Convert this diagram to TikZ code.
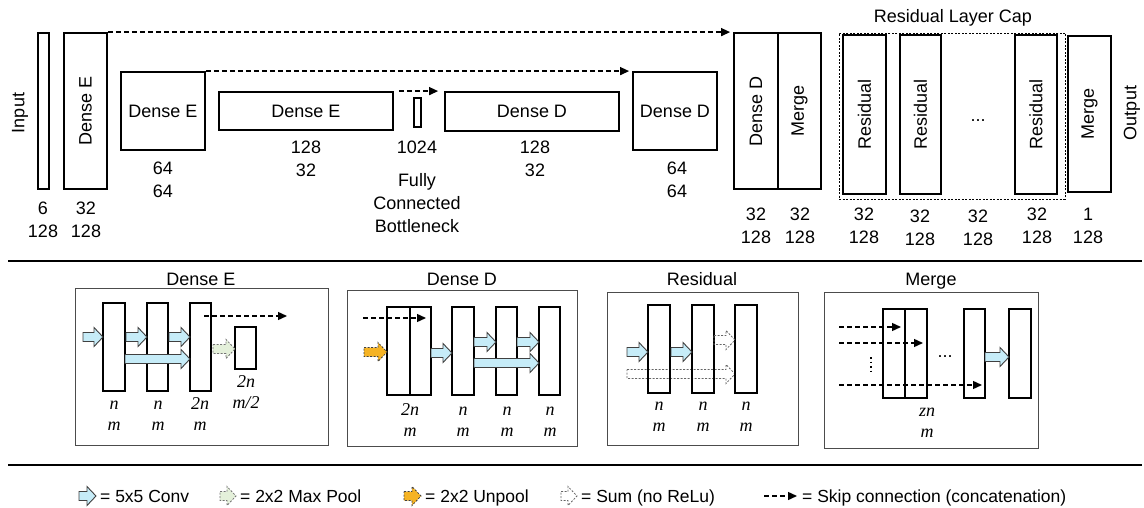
\documentclass[tikz,border=0pt]{standalone}
\usepackage{fontspec}
\setmainfont{Liberation Sans}
\newfontfamily\tms{Liberation Serif}
\usetikzlibrary{arrows.meta}
\definecolor{convblue}{HTML}{C6ECF8}
\definecolor{poolgreen}{HTML}{E4F0DA}
\definecolor{unpoolorange}{HTML}{F5B324}
\newcommand\bx[7][]{\node[#1,minimum width={(#5-#3)*1pt},minimum height={(#6-#4)*1pt}] (#2) at ({(#3+#5)/2},{(#4+#6)/2}) {#7};}
\newcommand\barr[4][conv]{\draw[#1] (#2,#4-4.5) -- (#3-9,#4-4.5) -- (#3-9,#4-9.5) -- (#3,#4) -- (#3-9,#4+9.5) -- (#3-9,#4+4.5) -- (#2,#4+4.5) -- cycle;}
\newcommand\ftop{\fontsize{18}{23}\selectfont}
\newcommand\fleg{\fontsize{17.5}{21}\selectfont}
\newcommand\fit{\fontsize{18}{21}\selectfont\tms\itshape}
\begin{document}
\begin{tikzpicture}[x=1pt,y=-1pt,
  box/.style={draw,line width=1.8pt,inner sep=0pt,font=\ftop},
  bar/.style={draw,line width=1.5pt,inner sep=0pt},
  panel/.style={draw=black!70,line width=0.9pt,inner sep=0pt},
  skip/.style={dash pattern=on 5pt off 3pt,line width=1.4pt,-{Triangle[length=9pt,width=8pt]}},
  conv/.style={draw=black!75,fill=convblue,line width=0.9pt,line join=miter},
  pool/.style={draw=black!55,fill=poolgreen,line width=0.8pt,dash pattern=on 2pt off 1.5pt},
  unpool/.style={draw=black!75,fill=unpoolorange,line width=0.8pt,dash pattern=on 2pt off 1.5pt},
  sumar/.style={draw=black!60,line width=0.8pt,dash pattern=on 2pt off 1.5pt},
  lbl/.style={align=center,font=\ftop,inner sep=0pt,anchor=north},
  ilbl/.style={align=center,font=\fit,inner sep=0pt,anchor=base},
  ttl/.style={font=\ftop,inner sep=0pt,anchor=base},
  leg/.style={font=\fleg,inner sep=0pt,anchor=base west}]
\useasboundingbox (0,0) rectangle (1144,508);

% ---------------- top row ----------------
\node[inner sep=0pt,font=\ftop] (inlbl) at (20,113) {\rotatebox{90}{Input}};
\bx[box]{inp}{38}{33}{49}{189}{}
\bx[box]{de1}{64}{33}{107}{189}{\rotatebox{90}{Dense E}}
\bx[box]{de2}{121}{72}{205}{150}{Dense E}
\bx[box]{de3}{219}{92}{393}{130}{Dense E}
\bx[box]{fc}{414}{98}{421}{127}{}
\bx[box]{dd3}{445}{92}{619}{131}{Dense D}
\bx[box]{dd2}{633}{72}{717}{150}{Dense D}
\bx[box]{dd1}{734}{33}{778}{189}{\rotatebox{90}{Dense D}}
\bx[box]{mg1}{778}{33}{821}{189}{\rotatebox{90}{Merge}}
\bx[draw,dash pattern=on 2pt off 1.5pt,line width=0.8pt,inner sep=0pt]{cap}{839}{33}{1065}{199}{}
\node[ttl] (captl) at (953,22.5) {Residual Layer Cap};
\bx[box]{r1}{843}{35}{886}{194}{\rotatebox{90}{Residual}}
\bx[box]{r2}{900}{35}{941}{194}{\rotatebox{90}{Residual}}
\bx[box]{r3}{1015}{35}{1057}{194}{\rotatebox{90}{Residual}}
\node[ttl] (rdots) at (978,122) {...};
\bx[box]{mg2}{1068}{36}{1111}{192}{\rotatebox{90}{Merge}}
\node[inner sep=0pt,font=\ftop] (outlbl) at (1132,113) {\rotatebox{90}{Output}};

\draw[skip] (de1.north east) -- ([xshift=-3pt]dd1.north west);
\draw[skip] (de2.north east) -- ([xshift=-3pt]dd2.north west);
\draw[skip] ([xshift=5pt]de3.north east) -- ([xshift=-6pt]dd3.north west);

\node[lbl] (l1) at (43,198) {\strut 6\\128};
\node[lbl] (l2) at (86,198) {\strut 32\\128};
\node[lbl] (l3) at (163,158) {\strut 64\\64};
\node[lbl] (l4) at (306,137) {\strut 128\\32};
\node[lbl] (l5) at (417,137) {\strut 1024};
\node[lbl] (l6) at (417,170) {\strut Fully\\Connected\\Bottleneck};
\node[lbl] (l7) at (535,137) {\strut 128\\32};
\node[lbl] (l8) at (677,158) {\strut 64\\64};
\node[lbl] (l9) at (756,204) {\strut 32\\128};
\node[lbl] (l10) at (800,204) {\strut 32\\128};
\node[lbl] (l11) at (864,204) {\strut 32\\128};
\node[lbl] (l12) at (920,206) {\strut 32\\128};
\node[lbl] (l13) at (978,206) {\strut 32\\128};
\node[lbl] (l14) at (1037,204) {\strut 32\\128};
\node[lbl] (l15) at (1088,204) {\strut 1\\128};

% separators
\draw[line width=2.6pt] (8,261) -- (1142,261);
\draw[line width=2.6pt] (8,465) -- (1142,465);

% ---------------- Dense E panel ----------------
\node[ttl] (tE) at (201,285) {Dense E};
\bx[panel]{pE}{75}{288}{328}{445}{}
\bx[bar]{e1}{103}{303}{125}{391}{}
\bx[bar]{e2}{147}{303}{168}{391}{}
\bx[bar]{e3}{190}{303}{211}{391}{}
\bx[bar]{e4}{235}{327}{256}{369}{}
\barr{83}{103}{337}
\barr{126}{147}{337}
\barr{169}{190}{337}
\barr{125}{190}{359}
\barr[pool]{213}{235}{349}
\draw[skip] (204,316) -- (287,316);
\node[ilbl] (eL1) at (114,430) {n\\m};
\node[ilbl] (eL2) at (158,430) {n\\m};
\node[ilbl] (eL3) at (200,430) {2n\\m};
\node[ilbl] (eL4) at (246,408) {2n\\m/2};

% ---------------- Dense D panel ----------------
\node[ttl] (tD) at (462,285) {Dense D};
\bx[panel]{pD}{347}{290}{577}{446}{}
\bx[bar]{d1a}{387}{307}{410}{395}{}
\bx[bar]{d1b}{410}{307}{431}{395}{}
\bx[bar]{d2}{452}{307}{474}{395}{}
\bx[bar]{d3}{496}{307}{517}{395}{}
\bx[bar]{d4}{539}{307}{560}{395}{}
\draw[skip] (363,318) -- (426,318);
\barr[unpool]{364}{387}{352}
\barr{431}{452}{353}
\barr{474}{496}{342}
\barr{517}{539}{342}
\barr{474}{539}{363}
\node[ilbl] (dL1) at (410,436) {2n\\m};
\node[ilbl] (dL2) at (463,436) {n\\m};
\node[ilbl] (dL3) at (507,436) {n\\m};
\node[ilbl] (dL4) at (550,436) {n\\m};

% ---------------- Residual panel ----------------
\node[ttl] (tR) at (702,285) {Residual};
\bx[panel]{pR}{607}{292}{798}{445}{}
\barr[sumar]{627}{735}{374}
\bx[bar]{s1}{648}{305}{670}{393}{}
\bx[bar]{s2}{692}{305}{714}{393}{}
\bx[bar]{s3}{735}{305}{757}{393}{}
\barr{627}{648}{352}
\barr{671}{692}{352}
\barr[sumar]{714}{735}{340}
\node[ilbl] (sL1) at (659,431) {n\\m};
\node[ilbl] (sL2) at (703,431) {n\\m};
\node[ilbl] (sL3) at (746,431) {n\\m};

% ---------------- Merge panel ----------------
\node[ttl] (tM) at (931,285) {Merge};
\bx[panel]{pM}{824}{292}{1038}{448}{}
\bx[bar]{m1a}{883}{309}{905}{398}{}
\bx[bar]{m1b}{905}{309}{927}{398}{}
\bx[bar]{m2}{964}{309}{985}{398}{}
\bx[bar]{m3}{1009}{309}{1031}{398}{}
\draw[skip] (839,327) -- (901,327);
\draw[skip] (839,343) -- (923,343);
\draw[skip] (839,385) -- (982,385);
\draw[line width=1.4pt,dash pattern=on 1.5pt off 3pt] (871,357) -- (871,373);
\node[ttl] (mdots) at (945,357) {...};
\barr{985}{1009}{357}
\node[ilbl] (mL1) at (927,437) {zn\\m};

% ---------------- legend ----------------
\barr{79}{96}{496}
\node[leg] (g1) at (100,502) {= 5x5 Conv};
\barr[pool]{220}{236}{496}
\node[leg] (g2) at (240,502) {= 2x2 Max Pool};
\barr[unpool]{404}{421}{496}
\node[leg] (g3) at (425,502) {= 2x2 Unpool};
\barr[sumar]{561}{577}{496}
\node[leg] (g4) at (581,502) {= Sum (no ReLu)};
\draw[skip] (764,496) -- (797,496);
\node[leg] (g5) at (802,502) {= Skip connection (concatenation)};
\end{tikzpicture}
\end{document}
